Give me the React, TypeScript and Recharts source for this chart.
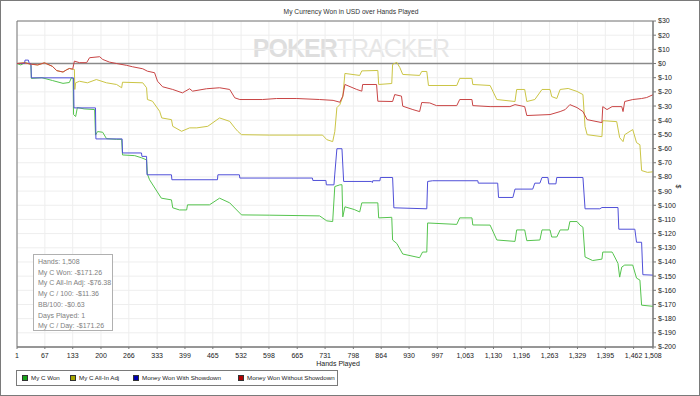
import React from 'react';
import {
  LineChart,
  Line,
  XAxis,
  YAxis,
  CartesianGrid,
  ReferenceLine,
  ReferenceArea,
} from 'recharts';

// [hands played, dollars]
const myCWon: [number, number][] = [
  [1, 0], [10, -1], [19, 0.5], [28, 0], [34, -0.5], [35, -10.5], [60, -10], [85, -12], [110, -14],
  [125, -13.4], [130, -10], [134, -10.5], [135, -36], [140, -37.4], [144, -31.1], [160, -32],
  [185, -32.5], [187, -50.5], [192, -48], [204, -48.5], [213, -53], [237, -53.5], [249, -53.5],
  [251, -64.5], [280, -65], [296, -66.5], [308, -68], [310, -78], [315, -82], [343, -95],
  [367, -96.2], [370, -101.8], [386, -103.3], [403, -103.3], [405, -99.7], [457, -99.7],
  [481, -95], [505, -98.3], [533, -106.8], [600, -107], [718, -107.5], [735, -111], [749, -111.5],
  [754, -86.8], [766, -85.6], [771, -85.5], [773, -108.2], [778, -101.1], [800, -103],
  [813, -104.7], [818, -98.3], [856, -98.3], [858, -108.9], [889, -108.5], [891, -124.5],
  [901, -127], [915, -134.4], [955, -137], [962, -133], [972, -133], [974, -112.5],
  [1043, -113.5], [1050, -108.9], [1079, -108.9], [1081, -113.9], [1122, -114], [1138, -124.5],
  [1181, -125.5], [1185, -117.4], [1204, -117.4], [1209, -125], [1240, -124.5], [1245, -117.4],
  [1264, -117.4], [1268, -122.4], [1280, -122.4], [1288, -117.4], [1307, -117.4], [1311, -111.5],
  [1328, -111.5], [1335, -114], [1342, -115.5], [1347, -136.5], [1365, -139], [1387, -138],
  [1389, -133], [1411, -133], [1413, -134], [1425, -141], [1429, -150.7], [1434, -143.6],
  [1441, -142.2], [1460, -142.2], [1469, -151.4], [1477, -152.8], [1481, -170.5], [1508, -171.3],
];

const myCAllInAdj: [number, number][] = [
  [1, 0], [19, 0.5], [35, -0.5], [50, -1], [66, 0.5], [85, -2], [95, -5], [110, -6], [118, -4.5],
  [125, -3.5], [133, -4], [137, -4.2], [138, -18.3], [140, -13.6], [149, -12.5], [168, -13.6],
  [189, -11.3], [213, -13.6], [237, -14.8], [249, -17.1], [251, -13.2], [299, -13.6],
  [308, -17.1], [310, -25.4], [322, -26.6], [339, -33.7], [344, -38.4], [367, -39.6],
  [370, -44.3], [391, -47.8], [410, -45.4], [427, -45.4], [453, -44.3], [481, -38.4],
  [505, -40.8], [517, -45.4], [524, -47.8], [533, -50.2], [600, -50.5], [725, -50.5],
  [735, -53.7], [749, -55.1], [754, -48.1], [759, -31.1], [766, -29], [773, -23.3], [778, -7],
  [813, -8.4], [818, -5.2], [856, -4.9], [858, -14.8], [889, -14.1], [891, -0.6], [901, 0.8],
  [908, -2.8], [915, -7.7], [955, -8.4], [960, -5.6], [972, -5.6], [976, -15.5], [1043, -15.5],
  [1050, -10.5], [1079, -10.5], [1081, -14.8], [1122, -15.5], [1138, -25.4], [1181, -26.8],
  [1185, -18.3], [1204, -18.3], [1209, -26.8], [1228, -25.4], [1245, -18.3], [1264, -18.3],
  [1268, -23.3], [1280, -24.7], [1288, -18.3], [1307, -17.6], [1328, -19.7], [1342, -21.9],
  [1347, -44.5], [1352, -50.2], [1387, -51.6], [1389, -40.3], [1422, -41], [1429, -52.3],
  [1437, -55.1], [1441, -50.2], [1460, -46.6], [1469, -55.8], [1477, -57.3], [1481, -75.5],
  [1495, -76.8], [1508, -76.4],
];

const wonWithShowdown: [number, number][] = [
  [1, 0], [19, 0], [20, 2.4], [28, 2.4], [30, 0], [34, 0], [35, -10.1], [135, -10.1],
  [136, -31.3], [187, -31.3], [188, -53.2], [250, -53.2], [251, -63.1], [296, -63.1],
  [297, -65.5], [308, -65.5], [309, -78.5], [367, -78.5], [368, -82], [476, -82], [477, -78.5],
  [528, -78.5], [529, -80.8], [701, -80.8], [702, -82.5], [733, -82.5], [734, -85.6],
  [752, -85.6], [754, -78], [759, -60.1], [771, -60.1], [775, -83.2], [841, -83.2], [843, -84],
  [844, -82.7], [861, -82.7], [862, -80.4], [891, -80.4], [894, -101.8], [972, -102.5],
  [974, -83.2], [986, -82.7], [1093, -82.7], [1094, -84.4], [1140, -84.4], [1142, -94.5],
  [1176, -94.5], [1181, -88.6], [1223, -88.6], [1228, -84.4], [1240, -84.4], [1245, -80.4],
  [1259, -80.4], [1261, -84.9], [1278, -84.9], [1280, -80.4], [1342, -80.4], [1347, -102.5],
  [1382, -102.5], [1387, -101.6], [1425, -101.6], [1427, -116.9], [1465, -116.9],
  [1469, -126.1], [1481, -126.1], [1484, -149], [1508, -149.3],
];

const wonWithoutShowdown: [number, number][] = [
  [1, 0], [19, 0.5], [35, -0.5], [50, -1], [66, 0.5], [85, -2], [95, -5], [110, -6], [118, -4.5],
  [125, -3.5], [133, -4], [137, 1.7], [149, 0.6], [166, 0.6], [173, 4.1], [197, 4.8],
  [204, 2.9], [220, 1], [237, 0], [261, -1.3], [275, -2.3], [299, -3.7], [310, -5.4],
  [327, -6.5], [334, -12.5], [346, -16.4], [370, -18.3], [393, -20.7], [410, -17.8],
  [417, -19.5], [450, -17.8], [481, -17.1], [505, -18.3], [517, -24.2], [529, -25.4],
  [583, -25.4], [616, -24.7], [664, -24.7], [718, -25.4], [750, -26], [766, -27.3],
  [773, -23], [778, -14.8], [806, -18.3], [818, -19.5], [820, -14.8], [853, -14.8],
  [856, -26.6], [891, -26.8], [896, -21.9], [912, -23], [915, -30.1], [939, -32.5],
  [955, -33.9], [960, -27.5], [979, -27.8], [995, -29.7], [1043, -29.7], [1050, -25.4],
  [1079, -25.4], [1081, -29.7], [1122, -30.4], [1169, -30.4], [1181, -29], [1204, -30.4],
  [1209, -36.7], [1264, -36], [1288, -33.9], [1300, -32.5], [1311, -29], [1328, -31.1],
  [1342, -33.9], [1352, -39.6], [1387, -41.7], [1389, -30.4], [1399, -32.5], [1411, -30.4],
  [1434, -30.4], [1437, -33.9], [1441, -26.8], [1460, -25.4], [1481, -24.7], [1493, -24],
  [1508, -22],
];

const seriesNames = ['My C Won', 'My C All-In Adj', 'Money Won With Showdown', 'Money Won Without Showdown'];
const seriesColors = ['#55c44e', '#cbc545', '#5050d8', '#c94545'];
const legendColors = ['#1aa31a', '#a6a600', '#0000b0', '#b00000'];
const seriesData = [myCWon, myCAllInAdj, wonWithShowdown, wonWithoutShowdown];

const handTicks = [1, 67, 133, 200, 266, 333, 399, 465, 532, 598, 665, 731, 798, 864, 930, 997, 1063, 1130, 1196, 1263, 1329, 1395, 1462, 1508];
const dollarTicks = [30, 20, 10, 0, -10, -20, -30, -40, -50, -60, -70, -80, -90, -100, -110, -120, -130, -140, -150, -160, -170, -180, -190, -200];

const statsLines = [
  'Hands: 1,508',
  'My C Won: -$171.26',
  'My C All-In Adj: -$76.38',
  'My C / 100: -$11.36',
  'BB/100: -$0.63',
  'Days Played: 1',
  'My C / Day: -$171.26',
];

const FONT = '"Liberation Sans", Arial, sans-serif';
const legendOffsets = [5, 53, 116, 221];

function HandTick(props: any) {
  const { x, y, payload } = props;
  return (
    <text x={x} y={y + 7} textAnchor="middle" fontSize={7} fill="#222" fontFamily={FONT}>
      {Number(payload.value).toLocaleString('en-US')}
    </text>
  );
}

export default function App() {
  const lines = seriesData.map((s) => s.map(([h, v]) => ({ h, v })));
  return (
    <div
      style={{
        position: 'absolute',
        left: 0,
        top: 0,
        width: 700,
        height: 396,
        boxSizing: 'border-box',
        border: '1px solid #7a7a7a',
        background: '#fff',
        fontFamily: FONT,
        overflow: 'hidden',
      }}
    >
      <div style={{ position: 'absolute', top: 7, left: 0, width: 700, textAlign: 'center', fontSize: 6.7, color: '#333' }}>
        My Currency Won in USD over Hands Played
      </div>
      <div
        style={{
          position: 'absolute',
          top: 33,
          left: 0,
          width: 700,
          textAlign: 'center',
          fontSize: 25,
          color: '#e6e6e6',
          letterSpacing: -1,
          lineHeight: '28px',
        }}
      >
        <span style={{ fontWeight: 'bold', color: '#dedede' }}>POKER</span>
        <span>TRACKER</span>
      </div>
      <div style={{ position: 'absolute', left: -1, top: -1 }}>
        <LineChart width={700} height={396} margin={{ top: 21, right: 7, left: 17, bottom: 35 }}>
          <CartesianGrid stroke="#eeeeee" strokeWidth={1} />
          <XAxis
            dataKey="h"
            type="number"
            domain={[1, 1508]}
            ticks={handTicks}
            interval={0}
            minTickGap={0}
            tick={<HandTick />}
            tickSize={2}
            height={14}
            stroke="#777"
          />
          <YAxis
            orientation="right"
            type="number"
            domain={[-200, 30]}
            ticks={dollarTicks}
            interval={0}
            tickFormatter={(v: number) => `$${v}`}
            tick={{ fontSize: 7, fill: '#222', fontFamily: FONT, textAnchor: 'start' }}
            tickSize={3}
            tickMargin={2}
            width={40}
            stroke="#777"
          />
          <ReferenceArea x1={1} x2={1508} y1={-200} y2={30} fill="none" stroke="#777" strokeWidth={1} ifOverflow="visible" />
          <ReferenceLine y={0} stroke="#8a8a8a" strokeWidth={1.5} />
          {lines.map((d, i) => (
            <Line
              key={seriesNames[i]}
              data={d}
              dataKey="v"
              name={seriesNames[i]}
              type="linear"
              stroke={seriesColors[i]}
              strokeWidth={1}
              dot={false}
              isAnimationActive={false}
            />
          ))}
        </LineChart>
      </div>
      <div style={{ position: 'absolute', left: 0, top: 359, width: 674, textAlign: 'center', fontSize: 7, color: '#222' }}>
        Hands Played
      </div>
      <div style={{ position: 'absolute', left: 676, top: 182, fontSize: 7, color: '#222', transform: 'rotate(90deg)' }}>$</div>
      <div
        style={{
          position: 'absolute',
          left: 32,
          top: 253,
          width: 80,
          height: 77,
          boxSizing: 'border-box',
          border: '1px solid #b0b0b0',
          background: '#fff',
          padding: '2px 4px',
          fontSize: 7,
          lineHeight: '10.7px',
          color: '#808080',
        }}
      >
        {statsLines.map((t) => (
          <div key={t} style={{ whiteSpace: 'nowrap' }}>{t}</div>
        ))}
      </div>
      <div
        style={{
          position: 'absolute',
          left: 15,
          top: 369,
          width: 322,
          height: 16,
          boxSizing: 'border-box',
          border: '1px solid #7a7a7a',
          fontSize: 6.2,
          color: '#222',
        }}
      >
        {seriesNames.map((n, i) => (
          <div
            key={n}
            style={{
              position: 'absolute',
              left: legendOffsets[i],
              top: 3,
              display: 'flex',
              alignItems: 'center',
              whiteSpace: 'nowrap',
              lineHeight: '8px',
            }}
          >
            <span
              style={{
                display: 'inline-block',
                width: 4,
                height: 4,
                background: legendColors[i],
                border: '1px solid #333',
                marginRight: 3,
              }}
            />
            {n}
          </div>
        ))}
      </div>
    </div>
  );
}
